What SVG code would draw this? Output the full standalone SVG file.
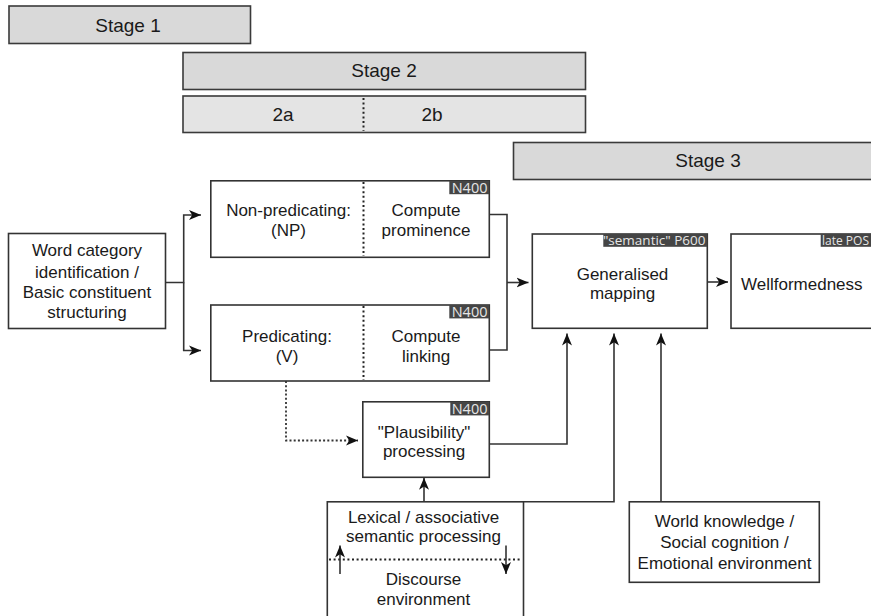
<svg xmlns="http://www.w3.org/2000/svg" width="871" height="616" viewBox="0 0 871 616">
<defs>
<marker id="arr" markerUnits="userSpaceOnUse" markerWidth="13" markerHeight="11" viewBox="0 0 13 11" refX="12" refY="5.5" orient="auto">
<path d="M0,0.5 L12,5.5 L0,10.5 L3.2,5.5 z" fill="#111"/>
</marker>
<style>
.stage{fill:#d9d9d9;stroke:#3a3a3a;stroke-width:1.6}
.sub{fill:#e4e4e4;stroke:#3a3a3a;stroke-width:1.6}
.box{fill:#fff;stroke:#333;stroke-width:1.6}
.dot{stroke:#222;stroke-width:2;stroke-dasharray:2,2.6;fill:none}
.t{font-family:"Liberation Sans",Arial,sans-serif;font-size:17px;fill:#1a1a1a;text-anchor:middle}
.ts{font-family:"Liberation Sans",Arial,sans-serif;font-size:19px;fill:#1a1a1a;text-anchor:middle}
.lb{fill:#454545}
.lt{font-family:"Open Sans","DejaVu Sans",sans-serif;font-size:14.5px;fill:#e6e6e6;text-anchor:end}
.c{fill:none;stroke:#333;stroke-width:1.6}
.cd{fill:none;stroke:#333;stroke-width:1.8;stroke-dasharray:2,2.2}
</style>
</defs>

<g id="stage1">
<rect class="stage" x="9" y="6" width="241.5" height="37.5"/>
<text class="ts" x="128" y="31.5">Stage 1</text>
</g>
<g id="stage2">
<rect class="stage" x="183" y="52.5" width="402.5" height="37"/>
<text class="ts" x="384" y="76.5">Stage 2</text>
</g>
<g id="stage2ab">
<rect class="sub" x="183" y="96" width="402.5" height="36.5"/>
<line class="dot" x1="363.5" y1="98" x2="363.5" y2="131"/>
<text class="ts" x="283" y="120.5">2a</text>
<text class="ts" x="432" y="120.5">2b</text>
</g>
<g id="stage3">
<rect class="stage" x="513.5" y="142.5" width="362" height="37"/>
<text class="ts" x="708" y="166.5">Stage 3</text>
</g>

<g id="word">
<rect class="box" x="8.5" y="233.5" width="157" height="95"/>
<text class="t" x="87" y="256">Word category</text>
<text class="t" x="87" y="277.5">identification /</text>
<text class="t" x="87" y="297.5">Basic constituent</text>
<text class="t" x="87" y="318">structuring</text>
</g>

<g id="nonpred">
<rect class="box" x="210.8" y="180.8" width="278.5" height="76.5"/>
<line class="dot" x1="363.5" y1="182" x2="363.5" y2="256"/>
<rect class="lb" x="449.3" y="180.8" width="40" height="13.4"/>
<text class="lt" x="487.5" y="192.6">N400</text>
<text class="t" x="288.5" y="215.5">Non-predicating:</text>
<text class="t" x="288.5" y="236">(NP)</text>
<text class="t" x="426" y="215.5">Compute</text>
<text class="t" x="426" y="236">prominence</text>
</g>

<g id="pred">
<rect class="box" x="210.8" y="305" width="278.5" height="76"/>
<line class="dot" x1="363.5" y1="306" x2="363.5" y2="380"/>
<rect class="lb" x="449.3" y="305" width="40" height="13.4"/>
<text class="lt" x="487.5" y="316.8">N400</text>
<text class="t" x="287" y="341.5">Predicating:</text>
<text class="t" x="287" y="361.5">(V)</text>
<text class="t" x="426" y="341.5">Compute</text>
<text class="t" x="426" y="361.5">linking</text>
</g>

<g id="plaus">
<rect class="box" x="362.8" y="401.8" width="126.5" height="75.5"/>
<rect class="lb" x="450.3" y="401.8" width="39" height="13.6"/>
<text class="lt" x="487.5" y="413.7">N400</text>
<text class="t" x="424" y="437.5">"Plausibility"</text>
<text class="t" x="424" y="457">processing</text>
</g>

<g id="genmap">
<rect class="box" x="532.3" y="234" width="175" height="94.3"/>
<rect class="lb" x="603.3" y="234" width="104" height="12.8"/>
<text class="lt" x="705.5" y="245.4" style="font-size:13.5px">"semantic" P600</text>
<text class="t" x="622.5" y="279.5">Generalised</text>
<text class="t" x="622.5" y="299">mapping</text>
</g>

<g id="wellform">
<rect class="box" x="731" y="234" width="150" height="94.3"/>
<rect class="lb" x="820.7" y="234" width="55" height="12.8"/>
<text class="lt" x="822" y="245" style="text-anchor:start;font-size:12px">late POS</text>
<text class="t" x="741" y="290" style="text-anchor:start">Wellformedness</text>
</g>

<g id="lexical">
<rect class="box" x="327.3" y="501.8" width="196.2" height="130"/>
<line class="dot" x1="329" y1="559.5" x2="522" y2="559.5"/>
<text class="t" x="423.5" y="522.5">Lexical / associative</text>
<text class="t" x="423.5" y="542">semantic processing</text>
<text class="t" x="423.5" y="584.5">Discourse</text>
<text class="t" x="423.5" y="605">environment</text>
</g>

<g id="world">
<rect class="box" x="629.3" y="501.8" width="190" height="80.5"/>
<text class="t" x="724.5" y="526.5">World knowledge /</text>
<text class="t" x="724.5" y="547.5">Social cognition /</text>
<text class="t" x="724.5" y="568.5">Emotional environment</text>
</g>

<g id="connectors">
<path class="c" d="M165.5,282.5 H183.7 V215 H201" marker-end="url(#arr)"/>
<path class="c" d="M183.7,282.5 V350.5 H201" marker-end="url(#arr)"/>
<path class="c" d="M489.3,214.5 H507 V350 H489.3"/>
<path class="c" d="M507,282.5 H528.5" marker-end="url(#arr)"/>
<path class="c" d="M707.3,282 H728" marker-end="url(#arr)"/>
<path class="cd" d="M286,381 V440.5 H358" marker-end="url(#arr)"/>
<path class="c" d="M489.3,444 H567 V333.5" marker-end="url(#arr)"/>
<path class="c" d="M523.5,501.8 H614 V333.5" marker-end="url(#arr)"/>
<path class="c" d="M661,501.8 V333.5" marker-end="url(#arr)"/>
<path class="c" d="M424,501.8 V477.8" marker-end="url(#arr)"/>
<path class="c" d="M340,574 V545.5" marker-end="url(#arr)"/>
<path class="c" d="M506,545.5 V574" marker-end="url(#arr)"/>
</g>
</svg>
